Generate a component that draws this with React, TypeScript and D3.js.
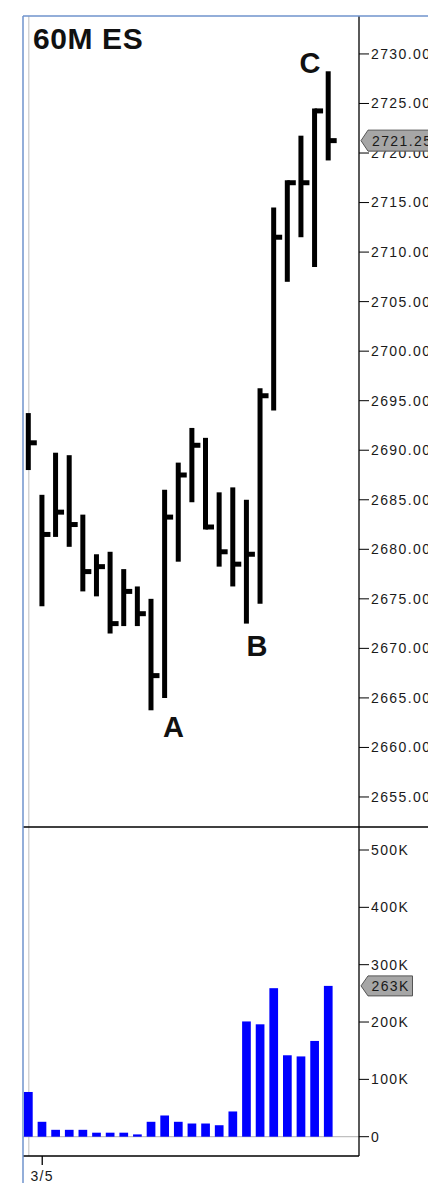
import React from 'react';
import * as d3 from 'd3';

const highs = [2693.75, 2685.5, 2689.75, 2689.5, 2683.5, 2679.5, 2679.75, 2678, 2676.25, 2675, 2686, 2688.75, 2692.25, 2691.25, 2685.75, 2686.25, 2685, 2696.25, 2714.5, 2717.25, 2721.75, 2724.5, 2728.25];
const lows = [2688, 2674.25, 2681.25, 2680.25, 2675.75, 2675.25, 2671.5, 2672.25, 2672.25, 2663.75, 2665, 2678.75, 2684.75, 2682, 2678.25, 2676.25, 2672.5, 2674.5, 2694, 2707, 2711.5, 2708.5, 2719.25];
const closes = [2690.75, 2681.5, 2683.75, 2682.5, 2677.75, 2678.25, 2672.5, 2675.75, 2673.5, 2667.25, 2683.25, 2687.5, 2690.5, 2682.25, 2679.75, 2678.5, 2679.5, 2695.5, 2711.5, 2717, 2717, 2724.25, 2721.25];
const volumes = [78000, 26000, 12000, 12000, 12000, 7000, 7000, 7000, 4000, 26000, 37000, 26000, 23000, 23000, 20000, 44000, 201000, 196000, 259000, 142000, 140000, 167000, 263000];

const priceTicks = [2655, 2660, 2665, 2670, 2675, 2680, 2685, 2690, 2695, 2700, 2705, 2710, 2715, 2720, 2725, 2730];
const volumeTicks = [0, 100000, 200000, 300000, 400000, 500000];
const dateTickIndex = [1];
const dateTickLabels = ['3/5'];

const annLabels = ['A', 'B', 'C'];
const annIndex = [10.65, 16.78, 20.67];
const annPrice = [2661.1, 2669.2, 2728.1];

const title = '60M ES';
const lastPriceLabel = '2721.25';
const lastVolumeLabel = '263K';

const FONT = '"Liberation Sans", Arial, sans-serif';

export default function App() {
  const W = 428, H = 1183;
  const left = 23, right = 359, top = 16, split = 827, bottom = 1156;
  const x = d3.scaleLinear().domain([0, highs.length - 1]).range([28.3, 328.2]);
  const yP = d3.scaleLinear().domain([2651.97, 2733.83]).range([split, top]);
  const yV = d3.scaleLinear().domain([0, 500000]).range([1136.7, 850]);
  const fmtP = d3.format('.2f');
  const fmtV = (v: number) => (v === 0 ? '0' : `${v / 1000}K`);
  const lastClose = closes[closes.length - 1];
  const lastVol = volumes[volumes.length - 1];
  const pY = yP(lastClose);
  const vY = yV(lastVol);

  return (
    <svg width={W} height={H} style={{ position: 'absolute', left: 0, top: 0, background: '#fff' }} fontFamily={FONT}>
      <rect x={0} y={0} width={W} height={H} fill="#fff" />
      {/* day separator */}
      <line x1={28.8} x2={28.8} y1={top} y2={bottom} stroke="#c8c8c8" strokeWidth={1.2} />
      {/* zero line volume */}
      <line x1={left} x2={right} y1={yV(0)} y2={yV(0)} stroke="#c0c0c0" strokeWidth={1.2} />

      {/* price bars */}
      {highs.map((h, i) => (
        <g key={`b${i}`}>
          <line x1={x(i)} x2={x(i)} y1={yP(h)} y2={yP(lows[i])} stroke="#000" strokeWidth={5} />
          <line x1={x(i)} x2={x(i) + 8.5} y1={yP(closes[i])} y2={yP(closes[i])} stroke="#000" strokeWidth={5} />
        </g>
      ))}

      {/* volume bars */}
      {volumes.map((v, i) => (
        <rect key={`v${i}`} x={x(i) - 4.3} y={yV(v)} width={8.7} height={yV(0) - yV(v)} fill="#0000ff" />
      ))}

      {/* annotations */}
      <text x={33} y={49} fontSize={30} fontWeight="bold" letterSpacing={0.6} fill="#111">{title}</text>
      {annLabels.map((t, i) => (
        <text key={t} x={x(annIndex[i])} y={yP(annPrice[i])} fontSize={29} fontWeight="bold" textAnchor="middle" fill="#111">{t}</text>
      ))}

      {/* frame lines */}
      <line x1={right} x2={right} y1={top} y2={bottom} stroke="#000" strokeWidth={1.3} />
      <line x1={left} x2={W} y1={split} y2={split} stroke="#000" strokeWidth={1.3} />
      <line x1={left} x2={right} y1={bottom} y2={bottom} stroke="#000" strokeWidth={1.3} />
      <line x1={left} x2={W} y1={top} y2={top} stroke="#6f93cc" strokeWidth={1.5} />
      <line x1={left} x2={left} y1={top} y2={H} stroke="#6f93cc" strokeWidth={1.5} />

      {/* price axis */}
      {priceTicks.map((t) => (
        <g key={`pt${t}`}>
          <line x1={right} x2={right + 10} y1={yP(t)} y2={yP(t)} stroke="#000" strokeWidth={1} />
          <text x={371} y={yP(t)} dy="0.35em" fontSize={14} letterSpacing={1.4} fill="#1a1a1a">{fmtP(t)}</text>
        </g>
      ))}
      {/* volume axis */}
      {volumeTicks.map((t) => (
        <g key={`vt${t}`}>
          <line x1={right} x2={right + 10} y1={yV(t)} y2={yV(t)} stroke="#000" strokeWidth={1} />
          <text x={371} y={yV(t)} dy="0.35em" fontSize={14} letterSpacing={1.4} fill="#1a1a1a">{fmtV(t)}</text>
        </g>
      ))}

      {/* last price marker */}
      <path d={`M${right + 2},${pY} L${right + 9},${pY - 10.5} L${W + 5},${pY - 10.5} L${W + 5},${pY + 10.5} L${right + 9},${pY + 10.5} Z`} fill="#a6a6a6" stroke="#555" strokeWidth={1} />
      <text x={372} y={pY} dy="0.35em" fontSize={14} letterSpacing={1.4} fill="#1a1a1a">{lastPriceLabel}</text>
      {/* last volume marker */}
      <path d={`M${right + 2},${vY} L${right + 9},${vY - 10} L${412.5},${vY - 10} L${412.5},${vY + 10} L${right + 9},${vY + 10} Z`} fill="#a6a6a6" stroke="#555" strokeWidth={1} />
      <text x={371.5} y={vY} dy="0.35em" fontSize={14} letterSpacing={1.4} fill="#1a1a1a">{lastVolumeLabel}</text>

      {/* date axis */}
      {dateTickIndex.map((di, k) => (
        <g key={`dt${k}`}>
          <line x1={x(di) + 0.3} x2={x(di) + 0.3} y1={bottom} y2={bottom + 9} stroke="#000" strokeWidth={1.3} />
          <text x={x(di) + 0.3} y={1181} fontSize={14} letterSpacing={1.4} textAnchor="middle" fill="#1a1a1a">{dateTickLabels[k]}</text>
        </g>
      ))}
    </svg>
  );
}
